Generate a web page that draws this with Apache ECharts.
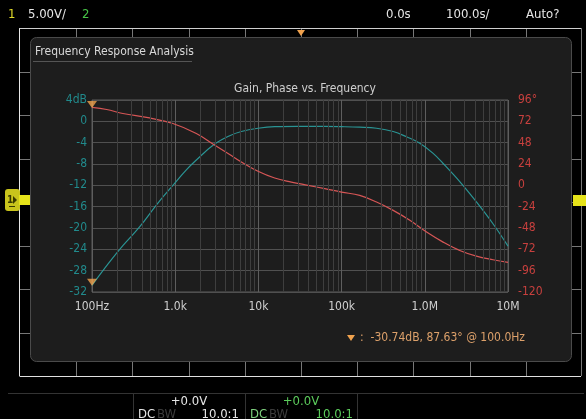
<!DOCTYPE html>
<html>
<head>
<meta charset="utf-8">
<script src="https://cdn.jsdelivr.net/npm/echarts@6/dist/echarts.min.js"></script>
<style>
  html, body { margin: 0; padding: 0; background: #000; }
  #chart { width: 586px; height: 419px; }
</style>
</head>
<body>
<div id="chart"></div>
<script>
// Frequency sweep: gain (dB) and phase (degrees) per frequency (Hz)
const gainFreq = [100, 162, 235, 373, 593, 938, 1361, 1795, 2900, 4517, 6237, 9890, 15700, 30000, 60000, 100000, 165000, 263000, 417000, 603000, 871000, 1260000, 1660000, 2630000, 4170000, 6600000, 10000000];
const gainDb   = [-30.74, -26.4, -23.3, -19.8, -15.7, -12.0, -9.1, -7.25, -4.4, -2.7, -1.9, -1.3, -1.0, -0.95, -0.95, -1.0, -1.1, -1.3, -1.9, -2.9, -4.1, -6.0, -7.9, -11.3, -15.1, -19.2, -23.4];

const phaseFreq = [100, 150, 235, 492, 938, 1795, 2900, 4517, 6237, 9890, 15700, 24900, 39500, 62800, 99700, 165000, 263000, 417000, 661000, 1050000, 1660000, 2630000, 4170000, 6600000, 10000000];
const phaseDeg  = [87.63, 85.3, 80.8, 75.8, 69.5, 58.3, 45.9, 34.6, 26.3, 15.8, 8.2, 3.7, 0.0, -3.7, -7.6, -11.3, -18.8, -28.2, -39.4, -52.6, -63.9, -73.3, -79.7, -83.7, -86.6];

// Marker readout
const markerFreq = 100.0;
const markerGain = -30.74;
const markerPhase = 87.63;

// Axis ranges and tick labels
const gainMin = -32, gainMax = 4, gainStep = 4;
const phaseMin = -120, phaseMax = 96, phaseStep = 24;
const freqMin = 100, freqMax = 10000000;
const freqTickLabels = { 100: '100Hz', 1000: '1.0k', 10000: '10k', 100000: '100k', 1000000: '1.0M', 10000000: '10M' };

// Minor log grid positions (2..9 within each decade)
const minorFreqs = [];
for (let d = 2; d < 7; d++) {
  for (let k = 2; k <= 9; k++) minorFreqs.push(k * Math.pow(10, d));
}

const FONT = "'DejaVu Sans Condensed', 'Liberation Sans Narrow', sans-serif";
const TEAL = '#2a9494';
const TEAL_LBL = '#218a8c';
const RED = '#d65656';
const RED_LBL = '#c8403e';
const ORANGE = '#f0a24e';

const chart = echarts.init(document.getElementById('chart'), null, { renderer: 'canvas' });

function txt(s, x, y, color, opts) {
  return Object.assign({ type: 'text', x: x, y: y, style: Object.assign({
    text: s, fill: color, font: '12px ' + FONT, textVerticalAlign: 'middle' }, (opts && opts.style) || {}) },
    (opts && opts.el) || {});
}

// Screen frame decorations (graticule edge, ticks, status bars)
const deco = [];
// panel
deco.push({ type: 'rect', z: -20, shape: { x: 30.5, y: 37.5, width: 541, height: 324, r: 6 },
  style: { fill: '#1d1d1d', stroke: '#4a4a4a', lineWidth: 1 } });
deco.push(txt('Frequency Response Analysis', 35, 52, '#d8d8d8', { el: { z: -5 } }));
deco.push({ type: 'line', z: -5, shape: { x1: 33, y1: 61.5, x2: 192, y2: 61.5 }, style: { stroke: '#555', lineWidth: 1 } });
// graticule border
deco.push({ type: 'line', z: -30, shape: { x1: 19.5, y1: 28, x2: 19.5, y2: 376 }, style: { stroke: '#e8e8e8', lineWidth: 1 } });
deco.push({ type: 'line', z: -30, shape: { x1: 19.5, y1: 28.5, x2: 581, y2: 28.5 }, style: { stroke: '#cfcfcf', lineWidth: 1 } });
deco.push({ type: 'line', z: -30, shape: { x1: 19.5, y1: 376.5, x2: 581, y2: 376.5 }, style: { stroke: '#e0e0e0', lineWidth: 1 } });
deco.push({ type: 'line', z: -30, shape: { x1: 581.5, y1: 28, x2: 581.5, y2: 376 }, style: { stroke: '#777', lineWidth: 1 } });
for (let k = 1; k < 10; k++) {
  const x = Math.round(20 + 56.2 * k) + 0.5;
  deco.push({ type: 'line', z: -30, shape: { x1: x, y1: 29, x2: x, y2: 40 }, style: { stroke: '#777', lineWidth: 1 } });
  deco.push({ type: 'line', z: -30, shape: { x1: x, y1: 362, x2: x, y2: 376 }, style: { stroke: '#777', lineWidth: 1 } });
}
for (let k = 1; k < 8; k++) {
  const y = Math.round(28 + 43.5 * k) + 0.5;
  deco.push({ type: 'line', z: -30, shape: { x1: 20, y1: y, x2: 30, y2: y }, style: { stroke: '#777', lineWidth: 1 } });
  deco.push({ type: 'line', z: -30, shape: { x1: 572, y1: y, x2: 581, y2: y }, style: { stroke: '#777', lineWidth: 1 } });
}
// trigger position marker (top)
deco.push({ type: 'polygon', shape: { points: [[297, 30], [305, 30], [301, 36]] }, style: { fill: ORANGE } });
// channel 1 ground marker (left) and trigger level (right)
deco.push({ type: 'rect', shape: { x: 5, y: 189, width: 15, height: 22, r: 3 }, style: { fill: '#c9c41c' } });
deco.push({ type: 'rect', shape: { x: 19, y: 195, width: 11, height: 10 }, style: { fill: '#e6e31a' } });
deco.push(txt('1', 7, 200, '#3a3a00', { style: { font: 'bold 10px ' + FONT } }));
deco.push({ type: 'polygon', shape: { points: [[13, 196], [17, 200], [13, 204]] }, style: { fill: '#3a3a00' } });
deco.push({ type: 'line', shape: { x1: 9, y1: 206.5, x2: 15, y2: 206.5 }, style: { stroke: '#3a3a00', lineWidth: 1 } });
deco.push({ type: 'rect', shape: { x: 573, y: 195, width: 13, height: 11 }, style: { fill: '#e6e31a' } });
// top status bar
const topText = [
  ['1', 8, '#e0da2a'], ['5.00V/', 28, '#e6e6e6'], ['2', 82, '#47c447'],
  ['0.0s', 386, '#e6e6e6'], ['100.0s/', 446, '#e6e6e6'], ['Auto?', 526, '#e6e6e6']
];
topText.forEach(t => deco.push(txt(t[0], t[1], 15, t[2], { style: { font: '13px ' + FONT } })));
// bottom channel bar
deco.push({ type: 'line', shape: { x1: 8, y1: 393.5, x2: 584, y2: 393.5 }, style: { stroke: '#333', lineWidth: 1 } });
[133.5, 245.5, 357.5].forEach(x => deco.push({ type: 'line', shape: { x1: x, y1: 393, x2: x, y2: 419 }, style: { stroke: '#333', lineWidth: 1 } }));
deco.push(txt('+0.0V', 189, 402, '#e6e6e6', { style: { textAlign: 'center', font: '13px ' + FONT } }));
deco.push(txt('+0.0V', 301, 402, '#5ccc5c', { style: { textAlign: 'center', font: '13px ' + FONT } }));
deco.push(txt('DC', 138, 415, '#e6e6e6', { style: { font: '13px ' + FONT } }));
deco.push(txt('BW', 157, 415, '#3c3c3c', { style: { font: '13px ' + FONT } }));
deco.push(txt('10.0:1', 239, 415, '#e6e6e6', { style: { textAlign: 'right', font: '13px ' + FONT } }));
deco.push(txt('DC', 250, 415, '#7fd07f', { style: { font: '13px ' + FONT } }));
deco.push(txt('BW', 269, 415, '#3c3c3c', { style: { font: '13px ' + FONT } }));
deco.push(txt('10.0:1', 353, 415, '#5ccc5c', { style: { textAlign: 'right', font: '13px ' + FONT } }));
// marker readout
deco.push({ type: 'polygon', shape: { points: [[347, 335], [355, 335], [351, 341]] }, style: { fill: ORANGE } });
deco.push(txt(':  ' + markerGain.toFixed(2) + 'dB, ' + markerPhase.toFixed(2) + '\u00b0 @ ' + markerFreq.toFixed(1) + 'Hz',
  360, 338, '#dca06a'));

const option = {
  backgroundColor: '#000',
  animation: false,
  textStyle: { fontFamily: FONT },
  title: {
    text: 'Gain, Phase vs. Frequency',
    left: 300, top: 78, textAlign: 'center',
    textStyle: { color: '#cfcfcf', fontSize: 12, fontWeight: 'normal', fontFamily: FONT }
  },
  grid: {
    left: 92, right: 78, top: 100, bottom: 127,
    show: true, borderColor: '#5c5c5c', borderWidth: 1, backgroundColor: 'transparent'
  },
  xAxis: {
    type: 'log', logBase: 10, min: freqMin, max: freqMax,
    axisLine: { show: false }, axisTick: { show: false },
    axisLabel: {
      color: '#d0d0d0', fontSize: 12, margin: 9, fontFamily: FONT,
      formatter: v => freqTickLabels[Math.round(v)] || ''
    },
    splitLine: { show: true, lineStyle: { color: '#5e5e5e', width: 1 } }
  },
  yAxis: [
    {
      type: 'value', min: gainMin, max: gainMax, interval: gainStep, position: 'left',
      axisLine: { show: false }, axisTick: { show: false },
      axisLabel: { color: TEAL_LBL, fontSize: 12, margin: 5, fontFamily: FONT,
        formatter: v => v === gainMax ? v + 'dB' : String(v) },
      splitLine: { show: true, lineStyle: { color: '#505050', width: 1 } }
    },
    {
      type: 'value', min: phaseMin, max: phaseMax, interval: phaseStep, position: 'right',
      axisLine: { show: false }, axisTick: { show: false },
      axisLabel: { color: RED_LBL, fontSize: 12, margin: 10, fontFamily: FONT,
        formatter: v => v === phaseMax ? v + '\u00b0' : String(v) },
      splitLine: { show: false }
    }
  ],
  series: [
    {
      name: 'minor grid', type: 'line', data: [], silent: true,
      markLine: {
        silent: true, symbol: 'none', label: { show: false },
        lineStyle: { color: '#3e3e3e', type: 'solid', width: 1 },
        data: minorFreqs.map(f => ({ xAxis: f }))
      },
      z: 1
    },
    {
      name: 'Gain', type: 'line', yAxisIndex: 0,
      data: gainFreq.map((f, i) => [f, gainDb[i]]),
      showSymbol: false, smooth: 0.4,
      lineStyle: { color: TEAL, width: 1.2 }, z: 3
    },
    {
      name: 'Phase', type: 'line', yAxisIndex: 1,
      data: phaseFreq.map((f, i) => [f, phaseDeg[i]]),
      showSymbol: false, smooth: 0.4,
      lineStyle: { color: RED, width: 1.2 }, z: 4
    },
    {
      name: 'gain marker', type: 'scatter', yAxisIndex: 0,
      data: [[markerFreq, markerGain]],
      symbol: 'triangle', symbolRotate: 180, symbolSize: [10, 7], symbolOffset: [0, -3],
      itemStyle: { color: ORANGE }, z: 5
    },
    {
      name: 'phase marker', type: 'scatter', yAxisIndex: 1,
      data: [[markerFreq, markerPhase]],
      symbol: 'triangle', symbolRotate: 180, symbolSize: [10, 7], symbolOffset: [0, -3],
      itemStyle: { color: ORANGE }, z: 5
    }
  ],
  graphic: { elements: deco }
};

chart.setOption(option);
</script>
</body>
</html>
